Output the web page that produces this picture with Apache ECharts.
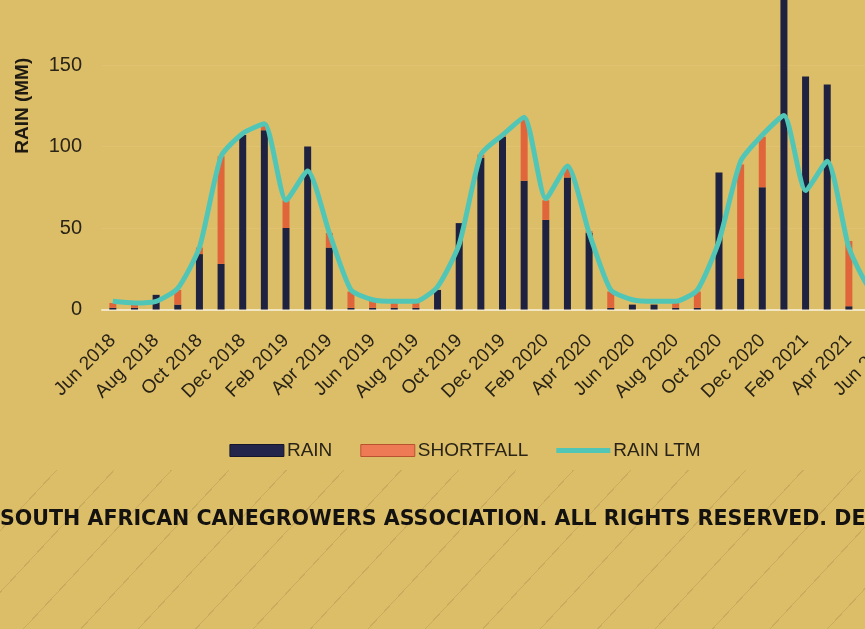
<!DOCTYPE html>
<html>
<head>
<meta charset="utf-8">
<script src="https://cdn.jsdelivr.net/npm/echarts@6/dist/echarts.min.js"></script>
<style>
  html, body { margin: 0; padding: 0; width: 865px; height: 629px; overflow: hidden; background: #DDBE68; }
  #stripes { position: absolute; left: 0; top: 470px; width: 865px; height: 159px;
    background: repeating-linear-gradient(133deg, transparent 0 41px, rgba(130,105,55,0.22) 41px 42px); }
  #main { position: absolute; left: 0; top: -120px; width: 930px; height: 760px; }
</style>
</head>
<body>
<div id="stripes"></div>
<div id="main"></div>
<script>
// months Jun 2018 .. Jun 2021
const months = [
  'Jun 2018', 'Jul 2018', 'Aug 2018', 'Sep 2018', 'Oct 2018', 'Nov 2018', 'Dec 2018',
  'Jan 2019', 'Feb 2019', 'Mar 2019', 'Apr 2019', 'May 2019', 'Jun 2019', 'Jul 2019',
  'Aug 2019', 'Sep 2019', 'Oct 2019', 'Nov 2019', 'Dec 2019', 'Jan 2020', 'Feb 2020',
  'Mar 2020', 'Apr 2020', 'May 2020', 'Jun 2020', 'Jul 2020', 'Aug 2020', 'Sep 2020',
  'Oct 2020', 'Nov 2020', 'Dec 2020', 'Jan 2021', 'Feb 2021', 'Mar 2021', 'Apr 2021',
  'May 2021', 'Jun 2021'
];
const rain = [1, 1, 9, 3, 34, 28, 107, 110, 50, 100, 38, 1, 1, 1, 1, 12, 53, 93, 106, 79, 55,
  81, 47, 1, 3, 3, 1, 1, 84, 19, 75, 210, 143, 138, 2, 1, 1];
const shortfall = [3, 2, 0, 9, 4, 66, 0, 4, 17, 0, 9, 10, 5, 3, 4, 0, 0, 2, 1, 38, 12,
  7, 1, 10, 0, 0, 3, 10, 0, 70, 31, 0, 0, 0, 40, 10, 5];
const rainLtm = [5, 4, 5, 13, 38, 94, 108, 114, 67, 85, 47, 12, 6, 5, 5, 14, 40, 95, 107, 118, 68,
  88, 47, 12, 6, 5, 5, 12, 42, 91, 107, 119, 73, 91, 38, 12, 6];
const yTicks = { min: 0, max: 250, step: 50 };

const chart = echarts.init(document.getElementById('main'));
const labelFont = 'Liberation Sans';

chart.setOption({
  animation: false,
  grid: { left: 102, right: 27, top: 22, bottom: 330.5 },
  legend: {
    top: 556,
    left: 'center',
    itemWidth: 54,
    itemHeight: 12,
    itemGap: 28,
    textStyle: { fontFamily: labelFont, fontSize: 19, color: '#2a2418', padding: [0, 0, 0, -2] },
    data: [
      { name: 'RAIN', icon: 'rect', itemStyle: { color: '#23264A', borderColor: '#15162c', borderWidth: 1 } },
      { name: 'SHORTFALL', icon: 'rect', itemStyle: { color: '#EE7A55', borderColor: '#b9532f', borderWidth: 1 } },
      // thin bar inside a 54x12 box, so the icon reads as a line
      { name: 'RAIN LTM', icon: 'path://M0,0 M54,12 M0,3.5 L54,3.5 L54,8.5 L0,8.5 Z',
        itemStyle: { color: '#52C6B6', borderWidth: 0 } }
    ]
  },
  xAxis: {
    type: 'category',
    data: months,
    axisLine: { lineStyle: { color: '#F3E6C2', width: 2 } },
    axisTick: { show: false },
    axisLabel: {
      interval: 1,
      rotate: 45,
      margin: 28,
      color: '#2a2418',
      fontFamily: labelFont,
      fontSize: 19
    }
  },
  yAxis: {
    type: 'value',
    min: yTicks.min,
    max: yTicks.max,
    interval: yTicks.step,
    name: 'RAIN (MM)',
    nameLocation: 'middle',
    nameGap: 70,
    nameTextStyle: { fontFamily: labelFont, fontWeight: 'bold', fontSize: 19, color: '#1e1a12' },
    axisLine: { show: false },
    axisTick: { show: false },
    axisLabel: { margin: 20, color: '#2a2418', fontFamily: labelFont, fontSize: 20 },
    splitLine: { lineStyle: { color: 'rgba(255,240,200,0.1)', width: 1 } }
  },
  series: [
    {
      name: 'RAIN',
      type: 'bar',
      stack: 'r',
      barWidth: 7,
      itemStyle: { color: '#1F2140' },
      data: rain
    },
    {
      name: 'SHORTFALL',
      type: 'bar',
      stack: 'r',
      barWidth: 7,
      itemStyle: { color: '#E0653A' },
      data: shortfall
    },
    {
      name: 'RAIN LTM',
      type: 'line',
      smooth: 0.2,
      symbol: 'none',
      z: 5,
      lineStyle: { color: '#52C6B6', width: 5 },
      itemStyle: { color: '#52C6B6' },
      data: rainLtm
    }
  ],
  graphic: [
    {
      type: 'text',
      left: 0,
      top: 629,
      style: {
        text: 'SOUTH AFRICAN CANEGROWERS ASSOCIATION. ALL RIGHTS RESERVED. DESIGNED BY',
        font: 'bold 20.6px "DejaVu Sans"',
        fill: '#141210'
      }
    }
  ]
});
</script>
</body>
</html>
